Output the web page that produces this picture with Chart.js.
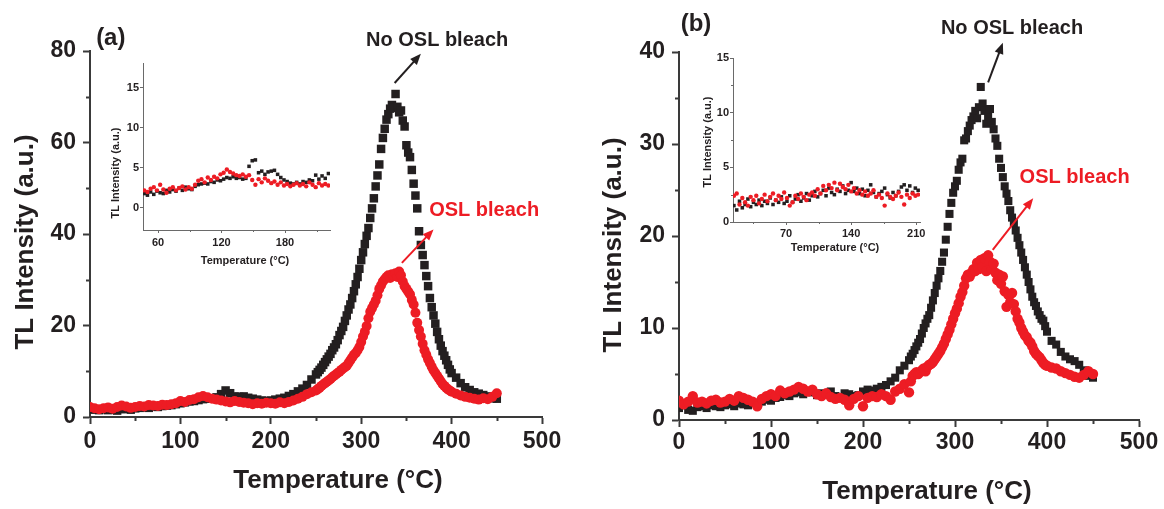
<!DOCTYPE html>
<html>
<head>
<meta charset="utf-8">
<title>TL glow curves</title>
<script src="https://cdn.jsdelivr.net/npm/chart.js@4.4.1/dist/chart.umd.min.js"></script>
<style>
  html, body { margin: 0; padding: 0; background: #fff; }
  body { width: 1164px; height: 509px; position: relative; overflow: hidden; }
  canvas { position: absolute; }
  #mainA { left: 0; top: 0; }
  #mainB { left: 590px; top: 0; }
  #insetA { left: 95px; top: 55px; }
  #insetB { left: 685px; top: 45px; }
</style>
</head>
<body>
<canvas id="mainA" width="582" height="509"></canvas>
<canvas id="mainB" width="574" height="509"></canvas>
<canvas id="insetA" width="250" height="220"></canvas>
<canvas id="insetB" width="245" height="220"></canvas>
<script>
// ---- Data ----

// Temperature grid (°C) shared by both main panels
const temperature = [
    0, 5, 10, 15, 20, 25, 30, 35, 40, 45,
    50, 55, 60, 65, 70, 75, 80, 85, 90, 95,
    100, 105, 110, 115, 120, 125, 130, 135, 140, 145,
    150, 155, 160, 165, 170, 175, 180, 185, 190, 195,
    200, 205, 210, 215, 220, 225, 230, 235, 240, 245,
    250,
    252, 254, 256, 258, 260, 262, 264, 266, 268, 270,
    272, 274, 276, 278, 280, 282, 284, 286, 288, 290,
    292, 294, 296, 298, 300, 302, 304, 306, 308, 310,
    312, 314, 316, 318, 320, 322, 324, 326, 328, 330,
    332, 334, 336, 338, 340, 342, 344, 346, 348, 350,
    352, 354, 356, 358, 360, 362, 364, 366, 368, 370,
    372, 374, 376, 378, 380, 382, 384, 386, 388, 390,
    392, 394, 396, 398, 400,
    405, 410, 415, 420, 425, 430, 435, 440, 445, 450
];

// Panel (a): no OSL bleach (black squares)
const noBleachA = [
    1.8, 1.6, 1.5, 1.7, 1.5, 1.6, 1.4, 1.7, 1.8, 1.6,
    1.9, 2.0, 2.1, 2.0, 2.3, 2.2, 2.4, 2.5, 2.6, 2.8,
    3.0, 3.2, 3.4, 3.5, 3.7, 3.9, 4.0, 4.1, 4.3, 5.0,
    5.8, 5.2, 4.5, 4.4, 4.5, 4.2, 4.0, 3.8, 3.6, 3.5,
    3.6, 3.8, 4.0, 4.2, 4.6, 5.0, 5.6, 6.2, 7.0, 8.2,
    9.3,
    9.8, 10.3, 10.8, 11.4, 12.0, 12.6, 13.2, 13.8, 14.6, 15.2,
    15.9, 16.8, 17.9, 18.8, 19.7, 21.0, 22.2, 23.5, 24.6, 26.0,
    27.5, 29.0, 30.6, 32.4, 34.3, 36.0, 37.8, 39.6, 41.3, 43.5,
    45.6, 47.8, 50.4, 52.8, 55.2, 58.6, 61.0, 63.0, 65.0, 66.2,
    67.4, 68.2, 67.6, 70.6, 67.8, 66.6, 67.0, 64.8, 63.5, 59.4,
    57.8, 56.8, 54.0, 51.0, 48.4, 45.6, 40.6, 37.6, 35.4, 33.2,
    30.8, 28.6, 26.0, 24.0, 22.2, 20.4, 18.6, 17.0, 15.6, 14.4,
    13.4, 12.4, 11.4, 10.4, 9.6,
    8.6, 7.4, 6.5, 5.9, 5.4, 5.1, 4.8, 4.5, 4.1, 4.0
];

// Panel (a): OSL bleach (red circles)
const bleachA = [
    2.2, 1.9, 1.7, 1.9, 2.1, 1.8, 2.2, 2.5, 2.3, 2.0,
    2.2, 2.4, 2.3, 2.6, 2.5, 2.4, 2.7, 2.6, 2.8, 3.0,
    3.5, 3.3, 3.7, 3.9, 4.3, 4.6, 4.3, 4.0, 3.8, 3.6,
    3.4, 3.2, 3.5, 3.3, 3.1, 3.0, 2.8, 3.0, 2.9, 3.1,
    3.0, 2.9, 3.2, 3.0, 3.3, 3.6, 4.0, 4.4, 5.0, 5.4,
    5.8,
    6.1, 6.4, 6.8, 7.1, 7.4, 7.7, 8.0, 8.3, 8.7, 9.0,
    9.3, 9.6, 9.9, 10.3, 10.6, 10.9, 11.2, 11.8, 12.4, 13.0,
    13.6, 14.0, 14.6, 15.3, 16.4, 17.6, 18.6, 19.9, 21.6, 23.0,
    23.8, 24.6, 25.4, 26.6, 28.0, 28.8, 29.6, 30.1, 30.6, 31.0,
    30.4, 31.2, 30.8, 31.4, 30.6, 31.8, 31.0, 29.6, 28.6, 28.0,
    27.4, 26.8, 25.6, 24.6, 22.8, 20.6, 19.0, 17.6, 16.0, 14.6,
    13.6, 12.6, 11.8, 11.0, 10.2, 9.6, 9.0, 8.4, 7.8, 7.2,
    6.8, 6.4, 6.0, 5.8, 5.5,
    5.1, 4.7, 4.4, 4.2, 4.0, 3.8, 4.1, 3.9, 4.4, 5.2
];

// Panel (b): no OSL bleach (black squares)
const noBleachB = [
    1.3, 1.6, 1.1, 1.0, 1.4, 1.5, 1.3, 1.6, 1.5, 1.4,
    1.6, 1.7, 1.5, 1.8, 1.7, 1.6, 1.9, 1.8, 2.0, 2.2,
    2.1, 2.4, 2.5, 2.7, 2.6, 2.9, 3.0, 2.8, 3.1, 3.0,
    2.7, 2.9, 2.8, 3.1, 2.6, 2.5, 2.9, 2.8, 2.6, 2.7,
    3.1, 3.3, 3.2, 3.4, 3.6, 3.8, 4.2, 4.6, 5.4, 5.9,
    6.5,
    6.9, 7.2, 7.6, 8.0, 8.4, 8.8, 9.4, 10.0, 10.5, 11.0,
    11.4, 12.2, 13.0, 13.8, 14.6, 15.4, 16.2, 17.2, 18.2, 19.6,
    21.0, 22.4, 23.6, 24.7, 25.4, 26.0, 27.2, 28.0, 28.4, 30.4,
    30.6, 31.4, 32.0, 32.6, 33.0, 33.6, 32.8, 34.0, 36.2, 34.4,
    33.6, 32.2, 33.0, 33.8, 32.4, 31.6, 30.6, 29.8, 28.4, 27.4,
    26.4, 25.4, 24.6, 23.8, 22.8, 22.0, 21.4, 20.6, 19.8, 19.0,
    18.2, 17.4, 16.6, 15.8, 15.0, 14.2, 13.4, 12.8, 12.4, 11.8,
    11.4, 11.0, 10.8, 10.2, 9.6,
    8.6, 8.2, 7.4, 6.9, 6.6, 6.4, 6.0, 5.4, 4.8, 4.6
];

// Panel (b): OSL bleach (red circles)
const bleachB = [
    2.1, 1.7, 2.0, 2.6, 1.9, 2.0, 1.8, 2.1, 2.2, 1.9,
    2.0, 2.3, 2.1, 2.6, 2.4, 2.2, 2.0, 1.5, 2.3, 2.6,
    2.8, 2.6, 3.2, 2.9, 3.1, 3.3, 3.6, 3.4, 3.1, 3.3,
    2.8, 2.6, 2.9, 2.5, 2.3, 2.4, 2.2, 1.6, 2.3, 2.6,
    1.5, 2.4, 2.6, 2.5, 2.8, 2.6, 2.2, 3.1, 3.4, 3.9,
    3.0,
    4.2, 4.8, 5.0, 5.2, 5.0, 5.2, 5.4, 5.6, 5.3, 5.8,
    6.0, 6.1, 6.3, 6.6, 6.9, 7.2, 7.5, 7.9, 8.3, 8.8,
    9.3, 9.8, 10.4, 11.0, 11.6, 12.1, 12.7, 13.4, 13.9, 14.6,
    15.4, 15.8, 15.6, 16.0, 16.4, 16.2, 17.1, 16.4, 17.4, 16.6,
    17.6, 16.2, 17.9, 17.2, 16.4, 17.0, 16.0, 15.2, 15.8, 14.8,
    15.6, 14.0, 12.3, 13.6, 12.8, 13.8, 12.6, 11.8, 11.0, 10.6,
    10.0, 9.6, 9.2, 9.0, 8.6, 8.4, 8.0, 7.5, 7.2, 7.0,
    6.8, 6.5, 6.2, 6.0, 5.9,
    5.7, 5.6, 5.3, 5.1, 4.9, 4.7, 4.6, 4.9, 5.3, 5.0
];

// Inset (a): low-temperature zoom
const insetTempA = [
    47, 50, 53, 56, 59, 62, 65, 68, 71, 74,
    77, 80, 83, 86, 89, 92, 95, 98, 101, 104,
    107, 110, 113, 116, 119, 122, 125, 128, 131, 134,
    137, 140, 143, 146, 149, 152, 155, 158, 161, 164,
    167, 170, 173, 176, 179, 182, 185, 188, 191, 194,
    197, 200, 203, 206, 209, 212, 215, 218, 221
];
const insetNoBleachA = [
    1.8, 1.6, 2.0, 1.7, 2.1, 1.9, 1.8, 2.2, 2.0, 2.3,
    2.1, 2.5, 2.2, 2.6, 2.4, 2.3, 2.7, 2.9, 3.0, 3.1,
    3.0, 3.3, 3.2, 3.5, 3.4, 3.6, 3.8, 3.7, 3.9, 3.7,
    3.8, 3.6, 3.7, 5.2, 5.9, 6.0, 4.4, 4.6, 4.2, 4.5,
    4.6, 4.7, 4.2, 3.8, 3.5, 3.3, 3.1, 3.0, 3.2, 3.0,
    3.3, 3.2, 3.5, 3.4, 4.1, 3.6, 4.0, 3.7, 4.3
];
const insetBleachA = [
    2.2, 2.0, 2.4, 2.6, 2.2, 2.9, 2.3, 1.9, 2.4, 2.6,
    2.2, 2.5, 2.7, 2.3, 2.6, 2.4, 2.9, 3.4, 3.6, 3.2,
    3.8, 3.5, 3.9, 3.7, 4.2, 4.4, 4.8, 4.5, 4.3, 4.1,
    4.0, 4.2, 3.9, 4.1, 3.5, 2.9, 3.6, 3.2, 3.7, 3.4,
    3.1, 3.3, 2.9, 3.2, 2.8, 3.0, 2.7, 2.9, 3.1, 2.8,
    3.0, 2.7, 3.2, 2.9, 2.6, 3.1, 2.8, 3.0, 2.8
];

// Inset (b): low-temperature zoom
const insetTempB = [
    14, 17, 20, 23, 26, 29, 32, 35, 38, 41,
    44, 47, 50, 53, 56, 59, 62, 65, 68, 71,
    74, 77, 80, 83, 86, 89, 92, 95, 98, 101,
    104, 107, 110, 113, 116, 119, 122, 125, 128, 131,
    134, 137, 140, 143, 146, 149, 152, 155, 158, 161,
    164, 167, 170, 173, 176, 179, 182, 185, 188, 191,
    194, 197, 200, 203, 206, 209, 212
];
const insetNoBleachB = [
    1.5, 1.1, 1.9, 1.3, 1.6, 2.1, 1.4, 1.8, 1.6, 2.0,
    1.5, 1.9, 1.7, 2.2, 1.6, 2.0, 1.8, 2.3, 1.7, 1.9,
    2.4, 1.8, 2.1, 2.5, 1.9, 2.2, 2.6, 2.0, 2.4, 2.8,
    2.3, 2.6, 2.9, 2.4, 3.1, 2.7, 2.5, 3.0, 2.8, 3.3,
    2.6, 2.9, 3.6, 2.8, 3.1, 2.6, 3.0, 2.4, 2.9, 3.4,
    2.7, 2.3, 2.6, 2.8, 3.1, 2.5, 2.2, 2.7, 2.4, 2.8,
    3.2, 3.4, 2.9, 3.3, 2.7, 3.1, 2.9
];
const insetBleachB = [
    2.4, 2.6, 1.6, 2.2, 1.8, 1.5, 2.3, 2.0, 2.4, 1.7,
    2.1, 2.5, 1.9, 2.3, 2.6, 2.0, 2.4, 2.1, 2.7, 2.2,
    1.5, 1.8, 2.4, 2.1, 2.6, 2.3, 2.0, 2.5, 2.7, 2.4,
    3.0, 2.6, 3.3, 2.9, 3.4, 3.1, 3.6, 2.9, 3.5, 3.2,
    3.0, 3.4, 2.8, 3.1, 2.6, 2.9, 2.5, 2.8, 2.4, 2.6,
    2.9, 2.3, 2.5, 2.2, 1.5, 2.6, 2.3, 2.1, 2.4, 2.7,
    2.3, 1.6, 2.5, 2.2, 2.6, 2.4, 2.5
];

// Tick labels
const tempTicks = [0, 100, 200, 300, 400, 500];
const tempMinor = [50, 150, 250, 350, 450];
const intensityTicksA = [0, 20, 40, 60, 80];
const intensityMinorA = [10, 30, 50, 70];
const intensityTicksB = [0, 10, 20, 30, 40];
const intensityMinorB = [5, 15, 25, 35];
const insetTempTicksA = [60, 120, 180];
const insetTempMinorA = [90, 150, 210];
const insetTempTicksB = [70, 140, 210];
const insetTempMinorB = [35, 105, 175];
const insetIntensityTicks = [0, 5, 10, 15];
const insetIntensityMinor = [2.5, 7.5, 12.5];

// ---- Styling ----
const FONT = "'Liberation Sans', Arial, Helvetica, sans-serif";
const INK = '#231f20';
const RED = '#ed1c24';
const AXIS = '#3a3a3a';
const INSET_AXIS = '#6a6a6a';

Chart.defaults.font.family = FONT;
Chart.defaults.color = INK;

// Pair x/y arrays into scatter points
function toPoints(xs, ys) {
    return xs.map((x, i) => ({ x: x, y: ys[i] }));
}

// Minor ticks, arrows, annotations and axis titles
const figureExtras = {
    id: 'figureExtras',
    afterDraw(chart, args, opts) {
        const ctx = chart.ctx;
        const xs = chart.scales.x;
        const ys = chart.scales.y;
        ctx.save();

        // Minor ticks (outward)
        ctx.strokeStyle = opts.axisColor;
        ctx.lineWidth = opts.minorWidth;
        (opts.minorX || []).forEach(v => {
            const px = Math.round(xs.getPixelForValue(v)) + 0.5;
            ctx.beginPath();
            ctx.moveTo(px, xs.top);
            ctx.lineTo(px, xs.top + opts.minorLength);
            ctx.stroke();
        });
        (opts.minorY || []).forEach(v => {
            const py = Math.round(ys.getPixelForValue(v)) + 0.5;
            ctx.beginPath();
            ctx.moveTo(ys.right, py);
            ctx.lineTo(ys.right - opts.minorLength, py);
            ctx.stroke();
        });

        // Arrows given in data coordinates
        (opts.arrows || []).forEach(a => {
            const x0 = xs.getPixelForValue(a.from[0]);
            const y0 = ys.getPixelForValue(a.from[1]);
            const x1 = xs.getPixelForValue(a.to[0]);
            const y1 = ys.getPixelForValue(a.to[1]);
            const ang = Math.atan2(y1 - y0, x1 - x0);
            const head = 11, half = 4.5;
            ctx.strokeStyle = a.color;
            ctx.fillStyle = a.color;
            ctx.lineWidth = 2;
            ctx.beginPath();
            ctx.moveTo(x0, y0);
            ctx.lineTo(x1 - head * 0.8 * Math.cos(ang), y1 - head * 0.8 * Math.sin(ang));
            ctx.stroke();
            ctx.beginPath();
            ctx.moveTo(x1, y1);
            ctx.lineTo(x1 - head * Math.cos(ang) + half * Math.sin(ang), y1 - head * Math.sin(ang) - half * Math.cos(ang));
            ctx.lineTo(x1 - head * Math.cos(ang) - half * Math.sin(ang), y1 - head * Math.sin(ang) + half * Math.cos(ang));
            ctx.closePath();
            ctx.fill();
        });

        // Text labels given in data coordinates
        ctx.textAlign = 'center';
        ctx.textBaseline = 'middle';
        (opts.labels || []).forEach(l => {
            ctx.font = l.font;
            ctx.fillStyle = l.color;
            ctx.fillText(l.text, xs.getPixelForValue(l.at[0]), ys.getPixelForValue(l.at[1]));
        });

        // Axis titles
        (opts.titles || []).forEach(t => {
            ctx.save();
            ctx.translate(t.x, t.y);
            if (t.rotate) ctx.rotate(-Math.PI / 2);
            ctx.font = t.font;
            ctx.fillStyle = INK;
            ctx.fillText(t.text, 0, 0);
            ctx.restore();
        });

        ctx.restore();
    }
};

// Linear axis with fixed ticks and fixed box size
function makeAxis(o) {
    return {
        type: 'linear',
        min: o.min,
        max: o.max,
        afterBuildTicks: s => { s.ticks = o.ticks.map(v => ({ value: v })); },
        afterFit: s => { if (o.horizontal) s.height = o.size; else s.width = o.size; },
        border: { display: true, color: o.color, width: o.lineWidth },
        grid: {
            display: true,
            drawOnChartArea: false,
            drawTicks: true,
            tickLength: o.tickLength,
            tickWidth: o.lineWidth,
            tickColor: o.color
        },
        ticks: {
            font: { family: FONT, size: o.fontSize, weight: 'bold' },
            color: INK,
            padding: o.padding,
            maxRotation: 0,
            autoSkip: false
        }
    };
}

// Build one scatter chart (main panel or inset)
function makeChart(id, cfg) {
    return new Chart(document.getElementById(id), {
        type: 'scatter',
        data: {
            datasets: [
                {
                    label: 'OSL bleach',
                    data: toPoints(cfg.temps, cfg.bleach),
                    pointStyle: 'circle',
                    pointRadius: cfg.circleRadius,
                    pointBackgroundColor: RED,
                    pointBorderWidth: 0,
                    clip: 0
                },
                {
                    label: 'No OSL bleach',
                    data: toPoints(cfg.temps, cfg.noBleach),
                    pointStyle: 'rect',
                    pointRadius: cfg.rectRadius,
                    pointBackgroundColor: INK,
                    pointBorderWidth: 0,
                    clip: 0
                }
            ]
        },
        options: {
            responsive: false,
            animation: false,
            events: [],
            layout: { padding: cfg.padding },
            plugins: {
                legend: { display: false },
                tooltip: { enabled: false },
                figureExtras: cfg.extras
            },
            scales: { x: cfg.x, y: cfg.y }
        },
        plugins: [figureExtras]
    });
}

// ---- Panel (a) ----
makeChart('mainA', {
    temps: temperature, bleach: bleachA, noBleach: noBleachA,
    circleRadius: 5.0, rectRadius: 6.0,
    padding: { left: 0, top: 51, right: 40, bottom: 0 },
    x: makeAxis({ horizontal: true, min: 0, max: 500, ticks: tempTicks, size: 92, color: AXIS, lineWidth: 2, tickLength: 7, fontSize: 23, padding: 4 }),
    y: makeAxis({ horizontal: false, min: 0, max: 80, ticks: intensityTicksA, size: 90, color: AXIS, lineWidth: 2, tickLength: 7, fontSize: 23, padding: 7 }),
    extras: {
        axisColor: AXIS, minorWidth: 2, minorLength: 4,
        minorX: tempMinor, minorY: intensityMinorA,
        arrows: [
            { from: [337, 73], to: [366, 79.4], color: INK },
            { from: [345, 33.7], to: [380, 41.0], color: RED }
        ],
        labels: [
            { text: '(a)', at: [23, 82.8], font: 'bold 24px ' + FONT, color: INK },
            { text: 'No OSL bleach', at: [384, 82.4], font: 'bold 20px ' + FONT, color: INK },
            { text: 'OSL bleach', at: [436, 45.2], font: 'bold 20px ' + FONT, color: RED }
        ],
        titles: [
            { text: 'Temperature (°C)', x: 338, y: 481, font: 'bold 26px ' + FONT },
            { text: 'TL Intensity (a.u.)', x: 26, y: 242, rotate: true, font: 'bold 26px ' + FONT }
        ]
    }
});

// ---- Panel (b) ----
makeChart('mainB', {
    temps: temperature, bleach: bleachB, noBleach: noBleachB,
    circleRadius: 5.2, rectRadius: 5.7,
    padding: { left: 0, top: 52, right: 25, bottom: 0 },
    x: makeAxis({ horizontal: true, min: 0, max: 500, ticks: tempTicks, size: 89, color: AXIS, lineWidth: 2, tickLength: 7, fontSize: 23, padding: 2 }),
    y: makeAxis({ horizontal: false, min: 0, max: 40, ticks: intensityTicksB, size: 89, color: AXIS, lineWidth: 2, tickLength: 7, fontSize: 23, padding: 7 }),
    extras: {
        axisColor: AXIS, minorWidth: 2, minorLength: 4,
        minorX: tempMinor, minorY: intensityMinorB,
        arrows: [
            { from: [336, 36.7], to: [352, 41.0], color: INK },
            { from: [341, 18.5], to: [385, 24.1], color: RED }
        ],
        labels: [
            { text: '(b)', at: [18.5, 43.0], font: 'bold 24px ' + FONT, color: INK },
            { text: 'No OSL bleach', at: [362, 42.6], font: 'bold 20px ' + FONT, color: INK },
            { text: 'OSL bleach', at: [430, 26.4], font: 'bold 20px ' + FONT, color: RED }
        ],
        titles: [
            { text: 'Temperature (°C)', x: 337, y: 492, font: 'bold 26px ' + FONT },
            { text: 'TL Intensity (a.u.)', x: 24, y: 245, rotate: true, font: 'bold 26px ' + FONT }
        ]
    }
});

// ---- Inset (a) ----
makeChart('insetA', {
    temps: insetTempA, bleach: insetBleachA, noBleach: insetNoBleachA,
    circleRadius: 2.2, rectRadius: 2.5,
    padding: { left: 0, top: 8, right: 15, bottom: 0 },
    x: makeAxis({ horizontal: true, min: 45.8, max: 222.5, ticks: insetTempTicksA, size: 45, color: INSET_AXIS, lineWidth: 1, tickLength: 3, fontSize: 11, padding: 3 }),
    y: makeAxis({ horizontal: false, min: -2.75, max: 18.1, ticks: insetIntensityTicks, size: 48, color: INSET_AXIS, lineWidth: 1, tickLength: 3, fontSize: 11, padding: 1 }),
    extras: {
        axisColor: INSET_AXIS, minorWidth: 1, minorLength: 2,
        minorX: insetTempMinorA, minorY: [],
        titles: [
            { text: 'Temperature (°C)', x: 150, y: 206, font: 'bold 11px ' + FONT },
            { text: 'TL Intensity (a.u.)', x: 21, y: 118, rotate: true, font: 'bold 11px ' + FONT }
        ]
    }
});

// ---- Inset (b) ----
makeChart('insetB', {
    temps: insetTempB, bleach: insetBleachB, noBleach: insetNoBleachB,
    circleRadius: 2.2, rectRadius: 2.5,
    padding: { left: 0, top: 13, right: 10, bottom: 0 },
    x: makeAxis({ horizontal: true, min: 13, max: 214, ticks: insetTempTicksB, size: 43, color: INSET_AXIS, lineWidth: 1, tickLength: 3, fontSize: 11, padding: 2 }),
    y: makeAxis({ horizontal: false, min: 0, max: 15, ticks: insetIntensityTicks, size: 48, color: INSET_AXIS, lineWidth: 1, tickLength: 3, fontSize: 11, padding: 1 }),
    extras: {
        axisColor: INSET_AXIS, minorWidth: 1, minorLength: 2,
        minorX: insetTempMinorB, minorY: insetIntensityMinor,
        titles: [
            { text: 'Temperature (°C)', x: 150, y: 203, font: 'bold 11px ' + FONT },
            { text: 'TL Intensity (a.u.)', x: 23, y: 97, rotate: true, font: 'bold 11px ' + FONT }
        ]
    }
});
</script>
</body>
</html>
